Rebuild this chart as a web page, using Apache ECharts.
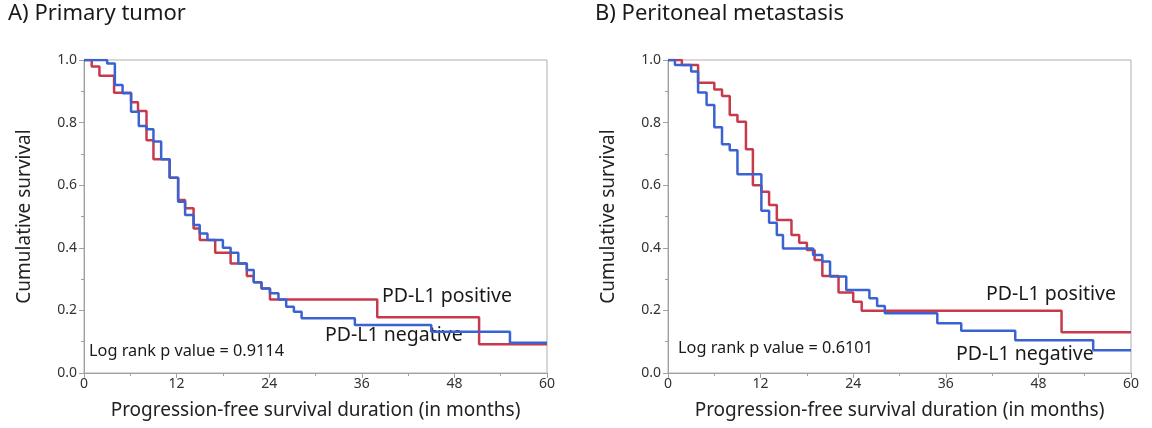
<!DOCTYPE html>
<html>
<head>
<meta charset="UTF-8">
<title>PFS by PD-L1</title>
<script src="https://cdn.jsdelivr.net/npm/echarts@6/dist/echarts.min.js"></script>
<style>
  html, body { margin: 0; padding: 0; background: #fff; }
  #main { width: 1152px; height: 428px; }
</style>
</head>
<body>
<div id="main"></div>
<script>
// months / cumulative survival
var primaryPos = [[0,1],[1.0,0.979],[2.0,0.95],[3.9,0.895],[6.1,0.865],[7.0,0.837],[8.1,0.744],[9.0,0.683],[11.1,0.624],[12.2,0.553],[13.1,0.526],[14.2,0.462],[15.0,0.425],[17.0,0.384],[19.0,0.35],[21.1,0.31],[22.0,0.29],[23.0,0.27],[24.1,0.235],[38.0,0.178],[51.2,0.092],[60,0.092]];
var primaryNeg = [[0,1],[3.0,0.989],[4.0,0.92],[5.0,0.894],[6.1,0.835],[7.1,0.789],[8.1,0.779],[9.0,0.74],[10.0,0.683],[11.1,0.624],[12.2,0.547],[13.1,0.505],[14.2,0.473],[15.0,0.446],[16.0,0.425],[18.0,0.40],[19.0,0.384],[20.0,0.35],[21.1,0.329],[22.0,0.29],[23.0,0.27],[24.1,0.255],[25.2,0.235],[26.2,0.212],[27.2,0.196],[28.2,0.175],[35.1,0.153],[45.0,0.132],[55.2,0.097],[60,0.097]];
var peritPos = [[0,1],[1.8,0.984],[3.9,0.927],[6.0,0.906],[7.0,0.885],[8.0,0.824],[9.0,0.803],[10.1,0.715],[11.0,0.60],[12.1,0.579],[13.1,0.537],[14.1,0.489],[16.0,0.441],[17.0,0.416],[18.0,0.393],[19.0,0.361],[20.0,0.31],[22.1,0.257],[24.0,0.228],[25.1,0.199],[51.0,0.13],[60,0.13]];
var peritNeg = [[0,1],[0.9,0.984],[3.0,0.963],[3.9,0.896],[5.0,0.856],[6.0,0.785],[7.0,0.731],[8.0,0.712],[9.0,0.635],[12.1,0.518],[13.1,0.48],[14.1,0.441],[14.9,0.398],[18.8,0.377],[20.0,0.356],[21.0,0.308],[23.1,0.265],[26.1,0.239],[27.1,0.214],[28.1,0.191],[34.9,0.159],[38.0,0.135],[45.0,0.105],[55.1,0.073],[60,0.073]];

var monthTicks = [0, 12, 24, 36, 48, 60];
var panelTitles = ['A) Primary tumor', 'B) Peritoneal metastasis'];
var pValues = ['Log rank p value = 0.9114', 'Log rank p value = 0.6101'];

var RED = '#c63a4c', BLUE = '#3b62d1';
var FONT = '"Noto Sans", "Open Sans", sans-serif';

function xAx(i) {
    return {
        gridIndex: i, type: 'value', min: 0, max: 60, interval: 12,
        name: 'Progression-free survival duration (in months)',
        nameLocation: 'middle', nameGap: 28,
        nameTextStyle: { fontFamily: FONT, fontSize: 19, color: '#222' },
        axisLine: { lineStyle: { color: '#a0a0a0' } },
        axisTick: { length: 5, lineStyle: { color: '#a0a0a0' } },
        minorTick: { show: true, splitNumber: 2, length: 3, lineStyle: { color: '#a0a0a0' } },
        axisLabel: { fontFamily: FONT, fontSize: 14, color: '#333', margin: 4,
            formatter: function (v) { return monthTicks.indexOf(v) >= 0 ? v : ''; } },
        splitLine: { show: false }
    };
}
function yAx(i) {
    return {
        gridIndex: i, type: 'value', min: 0, max: 1, interval: 0.2,
        name: 'Cumulative survival', nameLocation: 'middle', nameGap: 50,
        nameTextStyle: { fontFamily: FONT, fontSize: 19, color: '#222' },
        axisLine: { show: true, lineStyle: { color: '#a0a0a0' } },
        axisTick: { show: true, length: 5, lineStyle: { color: '#a0a0a0' } },
        minorTick: { show: true, splitNumber: 2, length: 3, lineStyle: { color: '#a0a0a0' } },
        axisLabel: { fontFamily: FONT, fontSize: 14, color: '#333', margin: 7,
            formatter: function (v) { return v.toFixed(1); } },
        splitLine: { show: false }
    };
}
function km(name, data, color, i) {
    return {
        name: name, type: 'line', step: 'end', xAxisIndex: i, yAxisIndex: i,
        data: data, showSymbol: false, symbol: 'none',
        lineStyle: { color: color, width: 2.5 }, z: color === BLUE ? 3 : 2
    };
}
function txt(x, y, s, size) {
    return { type: 'text', left: x, top: y,
        style: { text: s, fontFamily: FONT, fontSize: size, fill: '#1a1a1a' } };
}

var option = {
    animation: false,
    backgroundColor: '#fff',
    grid: [
        { left: 84, top: 60, width: 463, height: 313, show: true, borderColor: '#b0b0b0', borderWidth: 1 },
        { left: 668, top: 60, width: 463, height: 313, show: true, borderColor: '#b0b0b0', borderWidth: 1 }
    ],
    xAxis: [xAx(0), xAx(1)],
    yAxis: [yAx(0), yAx(1)],
    series: [
        km('PD-L1 positive', primaryPos, RED, 0),
        km('PD-L1 negative', primaryNeg, BLUE, 0),
        km('PD-L1 positive', peritPos, RED, 1),
        km('PD-L1 negative', peritNeg, BLUE, 1)
    ],
    graphic: [
        txt(8, 3, panelTitles[0], 22),
        txt(595, 3, panelTitles[1], 22),
        txt(89, 343, pValues[0], 16.3),
        txt(678, 340, pValues[1], 16.3),
        txt(382, 286, 'PD-L1 positive', 19.5),
        txt(325, 325, 'PD-L1 negative', 19.5),
        txt(986, 284, 'PD-L1 positive', 19.5),
        txt(956, 344, 'PD-L1 negative', 19.5)
    ]
};

var myChart = echarts.init(document.getElementById('main'));
myChart.setOption(option);
</script>
</body>
</html>
